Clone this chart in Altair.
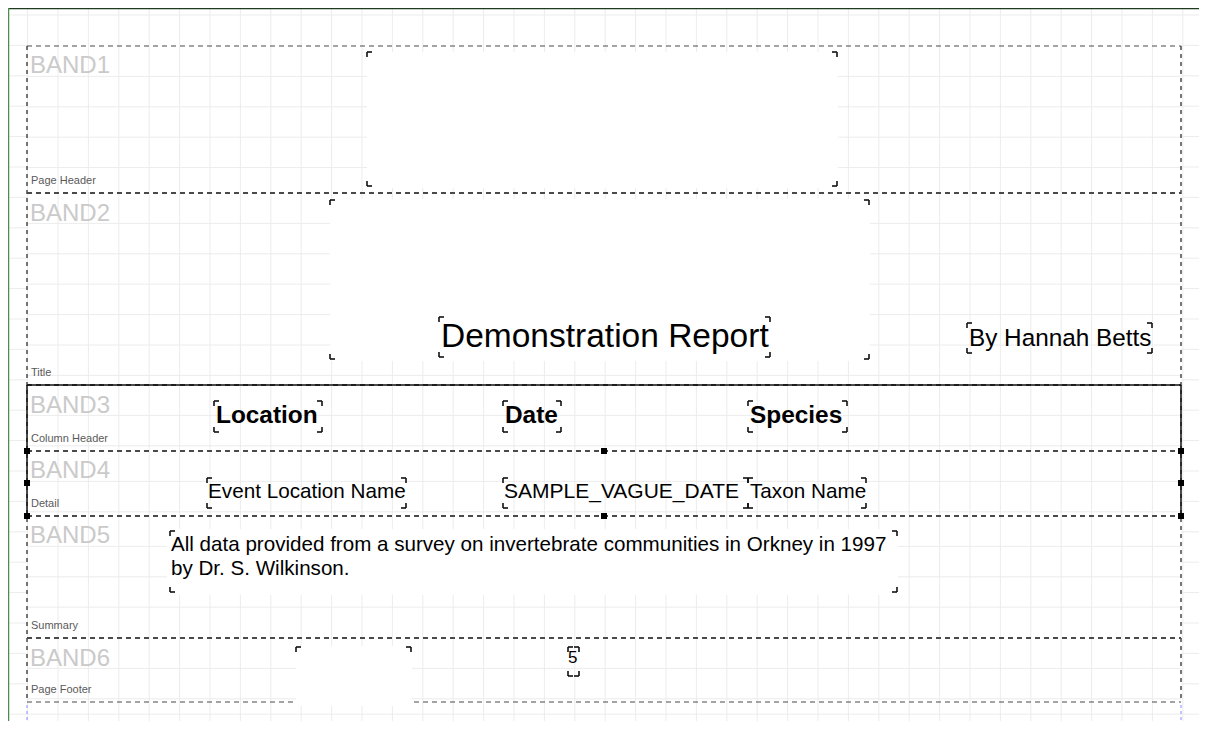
import altair as alt
import pandas as pd

# ---------------- data ----------------
band_ids = ["BAND1", "BAND2", "BAND3", "BAND4", "BAND5", "BAND6"]
band_kinds = ["Page Header", "Title", "Column Header", "Detail", "Summary", "Page Footer"]
band_edges = [46, 193, 385, 451, 516, 638, 702]
band_edge_widths = [1.2, 2, 2, 2, 2, 2, 1.2]
band_left, band_right = 27, 1181
band_id_baselines = [73, 221, 413, 478, 543, 666]
band_kind_baselines = [184, 376, 442, 507, 629, 693]

# report components: (left, top, right, bottom)
comp_names = ["band1 frame", "band2 frame", "title", "author", "col location", "col date",
              "col species", "fld location", "fld date", "fld taxon", "summary", "footer frame", "page no"]
comp_boxes = [(367, 52, 837, 186), (330, 200, 869, 359), (439, 317, 770, 357), (967, 323, 1152, 353),
              (214, 401, 322, 432), (503, 401, 561, 432), (748, 401, 847, 432),
              (207, 478, 406, 508), (503, 478, 748, 508), (748, 478, 866, 508),
              (170, 531, 897, 592), (296, 647, 411, 704), (568, 647, 579, 676)]
comp_corners = ["all"] * 11 + ["top", "all"]
white_boxes = [(367, 52, 838, 188), (330, 199, 870, 361), (167, 529, 898, 595), (296, 646, 412, 706)]

normal_texts = ["Demonstration Report", "By Hannah Betts", "Event Location Name", "SAMPLE_VAGUE_DATE",
                "Taxon Name", "All data provided from a survey on invertebrate communities in Orkney in 1997",
                "by Dr. S. Wilkinson.", "5"]
normal_x = [441, 969, 208, 504, 750, 171, 171, 568]
normal_base = [347, 346, 498, 498, 498, 551, 575, 663]
normal_size = [33.5, 24.3, 20.7, 21, 20.7, 20.6, 20.6, 17]

bold_texts = ["Location", "Date", "Species"]
bold_x = [216, 505, 750]
bold_base = [423, 423, 423]

handle_x = [604, 604, 1181, 1181, 1181, 27, 27, 27]
handle_y = [451, 516, 451, 483, 516, 451, 483, 516]

# ---------------- scales ----------------
xs = alt.Scale(domain=[8, 1199], nice=False, zero=False)
ys = alt.Scale(domain=[8, 721], nice=False, zero=False, reverse=True)


def X(f="x"):
    return alt.X(f"{f}:Q", scale=xs, axis=None)


def Y(f="y"):
    return alt.Y(f"{f}:Q", scale=ys, axis=None)


# ---------------- grid ----------------
GRID = 30.4
grid_rows = []
k = -1
while True:
    gx = 27.6 + GRID * k
    k += 1
    if gx > 1199:
        break
    if gx >= 8:
        grid_rows.append(dict(x=gx, x2=gx, y=8, y2=721))
for i in range(6):
    t, b = band_edges[i], band_edges[i + 1]
    j = 1
    while t + GRID * j < b - 2:
        gy = t + GRID * j
        grid_rows.append(dict(x=band_left, x2=band_right, y=gy, y2=gy))
        j += 1
j = 0
while 15 + GRID * j < 721:
    gy = 15 + GRID * j
    if gy < band_edges[0] - 2 or gy > band_edges[-1] + 2:
        grid_rows.append(dict(x=8, x2=1199, y=gy, y2=gy))
    else:
        grid_rows.append(dict(x=8, x2=band_left, y=gy, y2=gy))
        grid_rows.append(dict(x=band_right, x2=1199, y=gy, y2=gy))
    j += 1
grid = alt.Chart(pd.DataFrame(grid_rows)).mark_rule(color="#ececec", strokeWidth=1).encode(
    x=X(), x2="x2:Q", y=Y(), y2="y2:Q")

# ---------------- band lines ----------------
edges_df = pd.DataFrame(dict(y=band_edges, w=band_edge_widths, x=[band_left] * 7, x2=[band_right] * 7))
edges = alt.Chart(edges_df).mark_rule(color="#4a4a4a", strokeDash=[5, 4]).encode(
    x=X(), x2="x2:Q", y=Y(), strokeWidth=alt.StrokeWidth("w:Q", scale=None))
sides_df = pd.DataFrame(dict(x=[band_left, band_right], y=[band_edges[0]] * 2, y2=[band_edges[-1]] * 2))
sides = alt.Chart(sides_df).mark_rule(color="#4a4a4a", strokeDash=[4, 4], strokeWidth=1.5).encode(
    x=X(), y=Y(), y2="y2:Q")
blue_df = pd.DataFrame(dict(x=[band_left, band_right], y=[705, 705], y2=[721, 721]))
blue = alt.Chart(blue_df).mark_rule(color="#8c8cff", strokeDash=[3, 3], strokeWidth=1).encode(
    x=X(), y=Y(), y2="y2:Q")

# white component frames
wb = pd.DataFrame(white_boxes, columns=["x", "y", "x2", "y2"])
whites = alt.Chart(wb).mark_rect(color="white").encode(x=X(), x2="x2:Q", y=Y(), y2="y2:Q")

# selection border around BAND3-BAND4
sel_df = pd.DataFrame([
    dict(x=band_left, x2=band_right, y=band_edges[2], y2=band_edges[2]),
    dict(x=band_left, x2=band_left, y=band_edges[2], y2=band_edges[4]),
    dict(x=band_right, x2=band_right, y=band_edges[2], y2=band_edges[4]),
])
sel = alt.Chart(sel_df).mark_rule(color="#111111", strokeWidth=1.5).encode(
    x=X(), x2="x2:Q", y=Y(), y2="y2:Q")

# window frame lines
frame_df = pd.DataFrame([dict(x=8, x2=1199, y=8.6, y2=8.6, c="#1d3b1d"),
                         dict(x=8.6, x2=8.6, y=8, y2=721, c="#4f8a4f")])
frame = alt.Chart(frame_df).mark_rule(strokeWidth=1.3).encode(
    x=X(), x2="x2:Q", y=Y(), y2="y2:Q", color=alt.Color("c:N", scale=None))

# ---------------- component corner brackets ----------------
A = 5
br = []
for (l, t, r, b), c in zip(comp_boxes, comp_corners):
    segs = [(l, t, l + A, t), (l, t, l, t + A), (r - A, t, r, t), (r, t, r, t + A)]
    if c == "all":
        segs += [(l, b, l + A, b), (l, b - A, l, b), (r - A, b, r, b), (r, b - A, r, b)]
    for s in segs:
        br.append(dict(x=s[0], y=s[1], x2=s[2], y2=s[3]))
brackets = alt.Chart(pd.DataFrame(br)).mark_rule(color="#111111", strokeWidth=1.6).encode(
    x=X(), x2="x2:Q", y=Y(), y2="y2:Q")

# ---------------- texts ----------------
FONT = "Liberation Sans"
id_df = pd.DataFrame(dict(t=band_ids, x=[30] * 6, y=band_id_baselines))
id_text = alt.Chart(id_df).mark_text(align="left", baseline="alphabetic", font=FONT, fontSize=24,
                                     color="#cacaca").encode(x=X(), y=Y(), text="t:N")
kind_df = pd.DataFrame(dict(t=band_kinds, x=[31] * 6, y=band_kind_baselines))
kind_text = alt.Chart(kind_df).mark_text(align="left", baseline="alphabetic", font=FONT, fontSize=11,
                                         color="#5a5a5a").encode(x=X(), y=Y(), text="t:N")
n_df = pd.DataFrame(dict(t=normal_texts, x=normal_x, y=normal_base, s=normal_size))
n_text = alt.Chart(n_df).mark_text(align="left", baseline="alphabetic", font=FONT, color="#000000").encode(
    x=X(), y=Y(), text="t:N", size=alt.Size("s:Q", scale=None))
b_df = pd.DataFrame(dict(t=bold_texts, x=bold_x, y=bold_base))
b_text = alt.Chart(b_df).mark_text(align="left", baseline="alphabetic", font=FONT, fontSize=24.4,
                                   fontWeight="bold", color="#000000").encode(x=X(), y=Y(), text="t:N")

# ---------------- handles ----------------
h_df = pd.DataFrame(dict(x=handle_x, y=handle_y))
handles = alt.Chart(h_df).mark_square(size=36, color="#000000", opacity=1).encode(x=X(), y=Y())

chart = alt.layer(
    grid, edges, sides, blue, whites, sel, frame, brackets, id_text, kind_text, n_text, b_text, handles
).properties(
    width=1191, height=713, padding=0, autosize=alt.AutoSizeParams(type="none"), background="white"
).configure_view(stroke=None)

chart.save("out.html", embed_options={"renderer": "svg", "actions": False})
